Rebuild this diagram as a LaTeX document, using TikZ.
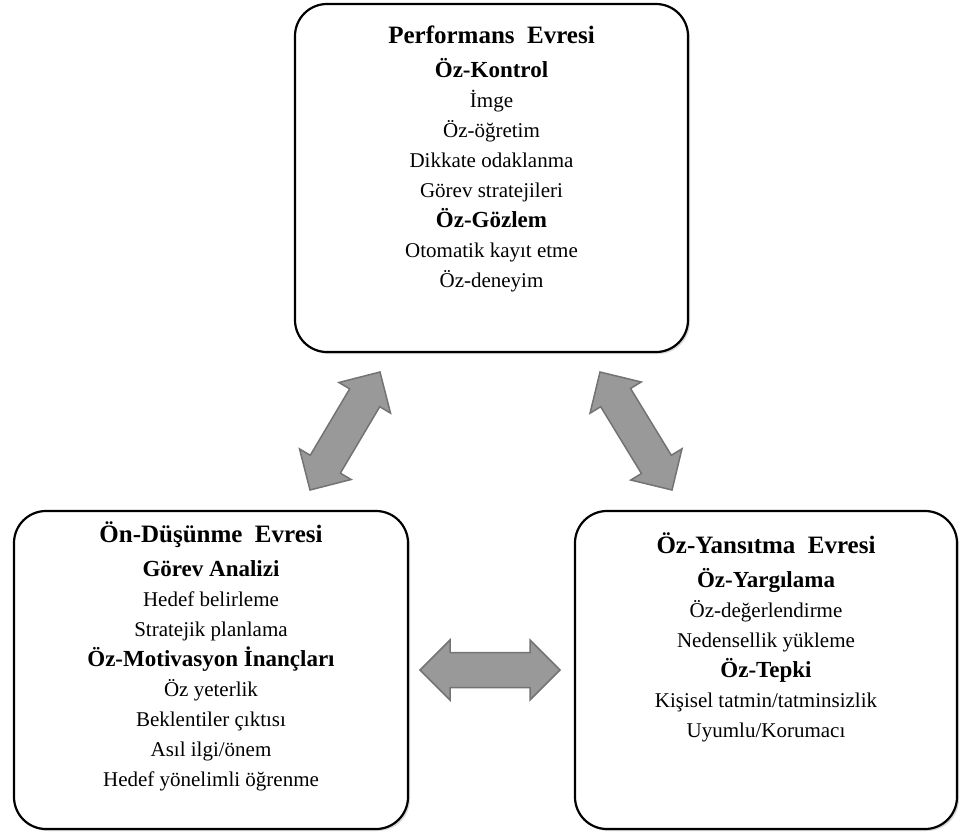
\documentclass[tikz,border=0pt]{standalone}
\usepackage{fontspec}
\setmainfont{Liberation Serif}
\usetikzlibrary{calc,shadows}
\newcommand{\hd}{\bfseries\fontsize{25}{30}\selectfont}
\newcommand{\sh}{\bfseries\fontsize{23}{30}\selectfont}
\newcommand{\dblarrowpath}[2]{%
  \filldraw[arrowshape] (#1)
  -- ($(#1)!30pt!(#2)!30pt!90:(#2)$)
  -- ($(#1)!30pt!(#2)!17.5pt!90:(#2)$)
  -- ($(#2)!30pt!(#1)!17.5pt!-90:(#1)$)
  -- ($(#2)!30pt!(#1)!30pt!-90:(#1)$)
  -- (#2)
  -- ($(#2)!30pt!(#1)!30pt!90:(#1)$)
  -- ($(#2)!30pt!(#1)!17.5pt!90:(#1)$)
  -- ($(#1)!30pt!(#2)!17.5pt!-90:(#2)$)
  -- ($(#1)!30pt!(#2)!30pt!-90:(#2)$)
  -- cycle;}
\tikzset{
  phasebox/.style={draw=black, line width=2.2pt, rounded corners=32pt, fill=white,
    drop shadow={shadow xshift=2pt, shadow yshift=-2pt, opacity=0.3, fill=black!50}},
  txt/.style={align=center, inner sep=0pt, anchor=base, font=\fontsize{21}{30}\selectfont},
  arrowshape/.style={fill=black!40, draw=black!55, line width=1.5pt, line join=miter}
}
\begin{document}
\begin{tikzpicture}[x=1pt, y=-1pt]
\useasboundingbox (0,0) rectangle (961,833);
% boxes
\node[phasebox, minimum width=393pt, minimum height=348pt] (perf) at (491.5,178) {};
\node[phasebox, minimum width=394pt, minimum height=318pt] (fore) at (211,670) {};
\node[phasebox, minimum width=382pt, minimum height=318pt] (refl) at (766,670) {};
% texts (anchor base = baseline of the last line)
\node[txt] (perftext) at (491.5,287) {{\hd Performans~~Evresi}\\[4pt]
  {\sh Öz-Kontrol}\\ İmge\\ Öz-öğretim\\ Dikkate odaklanma\\ Görev stratejileri\\
  {\sh Öz-Gözlem}\\ Otomatik kayıt etme\\ Öz-deneyim};
\node[txt] (foretext) at (211,786) {{\hd Ön-Düşünme~~Evresi}\\[4pt]
  {\sh Görev Analizi}\\ Hedef belirleme\\ Stratejik planlama\\
  {\sh Öz-Motivasyon İnançları}\\ Öz yeterlik\\ Beklentiler çıktısı\\ Asıl ilgi/önem\\
  Hedef yönelimli öğrenme};
\node[txt] (refltext) at (766,737) {{\hd Öz-Yansıtma~~Evresi}\\[4pt]
  {\sh Öz-Yargılama}\\ Öz-değerlendirme\\ Nedensellik yükleme\\
  {\sh Öz-Tepki}\\ Kişisel tatmin/tatminsizlik\\ Uyumlu/Korumacı};
% arrow ends
\coordinate (lt) at (380,372);
\coordinate (lb) at (310,490);
\coordinate (rt) at (600,372);
\coordinate (rb) at (672,490);
\coordinate (hl) at (420,670);
\coordinate (hr) at (560,670);
\dblarrowpath{lt}{lb}
\dblarrowpath{rt}{rb}
\dblarrowpath{hl}{hr}
\end{tikzpicture}
\end{document}
